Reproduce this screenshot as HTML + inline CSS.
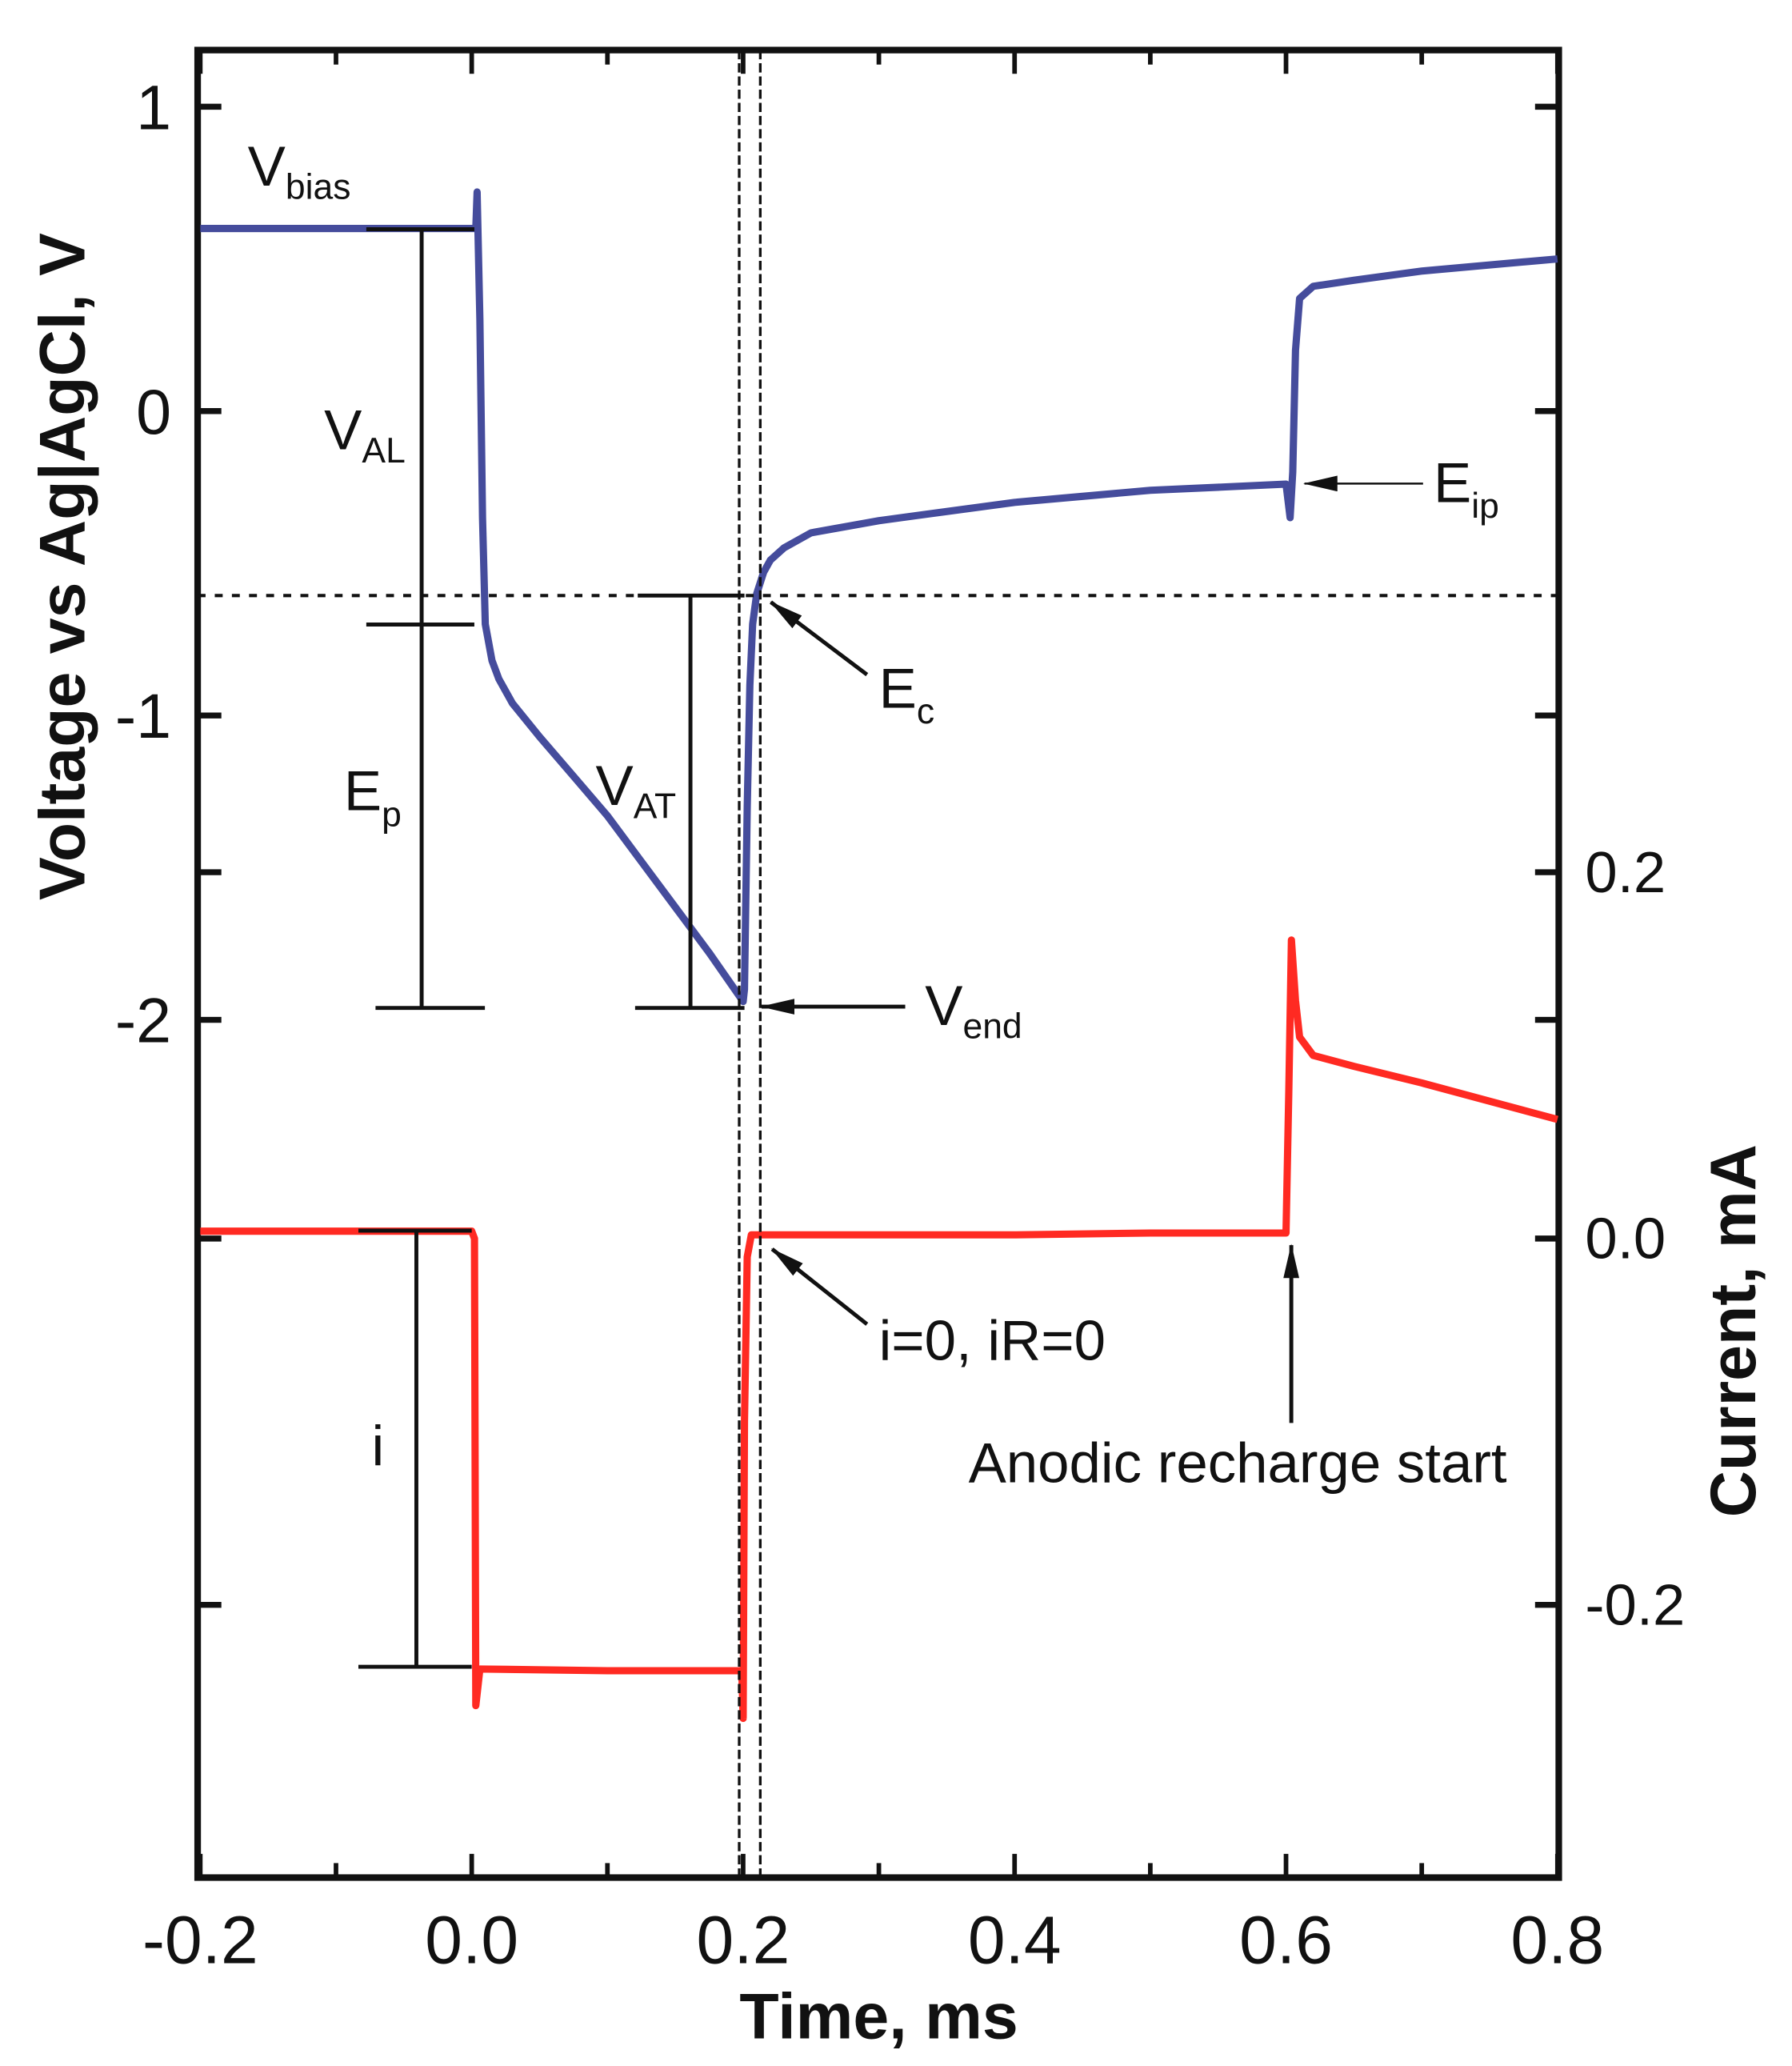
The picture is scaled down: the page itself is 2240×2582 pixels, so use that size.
<!DOCTYPE html>
<html><head><meta charset="utf-8"><style>
html,body{margin:0;padding:0;background:#fff;}
svg{display:block;}
text{font-family:"Liberation Sans",Arial,sans-serif;fill:#111;}
</style></head><body>
<svg id="chart" width="2240" height="2582" viewBox="0 0 1360 1568" preserveAspectRatio="none" xmlns="http://www.w3.org/2000/svg">
<g id="axes"></g>
<g id="series"></g>
<g id="annot">
  <defs>
  <marker id="ahb" markerWidth="26" markerHeight="12" refX="25" refY="6" orient="auto" markerUnits="userSpaceOnUse"><path d="M0,0 L26,6 L0,12 z" fill="#111"/></marker></defs>
  <line x1="150" y1="452" x2="1183" y2="452" stroke="#111" stroke-width="2.5" stroke-dasharray="6,7"/>
  <line x1="561" y1="38" x2="561" y2="1425" stroke="#111" stroke-width="2" stroke-dasharray="7,3"/>
  <line x1="577" y1="38" x2="577" y2="1425" stroke="#111" stroke-width="2" stroke-dasharray="7,3"/>
  <g stroke="#111" stroke-width="3">
    <line x1="320" y1="174" x2="320" y2="765"/><line x1="278" y1="174" x2="360" y2="174"/>
    <line x1="278" y1="474" x2="360" y2="474"/><line x1="285" y1="765" x2="368" y2="765"/>
  </g>
  <g stroke="#111" stroke-width="3">
    <line x1="524" y1="452" x2="524" y2="765"/><line x1="484" y1="452" x2="565" y2="452"/>
    <line x1="482" y1="765" x2="565" y2="765"/>
  </g>
  <g stroke="#111" stroke-width="3">
    <line x1="316" y1="934" x2="316" y2="1265"/><line x1="272" y1="934" x2="358" y2="934"/>
    <line x1="272" y1="1265" x2="358" y2="1265"/>
  </g>
  <line x1="658" y1="512" x2="585" y2="457" stroke="#111" stroke-width="3" marker-end="url(#ahb)"/>
  <line x1="687" y1="764" x2="578" y2="764" stroke="#111" stroke-width="3" marker-end="url(#ahb)"/>
  <line x1="1080" y1="367" x2="990" y2="367" stroke="#111" stroke-width="1.5" marker-end="url(#ahb)"/>
  <line x1="658" y1="1005" x2="586" y2="948" stroke="#111" stroke-width="3" marker-end="url(#ahb)"/>
  <line x1="980" y1="1080" x2="980" y2="945" stroke="#111" stroke-width="3" marker-end="url(#ahb)"/>
  <text x="188" y="141" font-size="43">V<tspan font-size="27" dy="10">bias</tspan></text>
  <text x="246" y="341" font-size="43">V<tspan font-size="27" dy="10">AL</tspan></text>
  <text x="261" y="615" font-size="43">E<tspan font-size="27" dy="12">p</tspan></text>
  <text x="452" y="611" font-size="43">V<tspan font-size="27" dy="10">AT</tspan></text>
  <text x="667" y="537" font-size="43">E<tspan font-size="27" dy="12">c</tspan></text>
  <text x="702" y="778" font-size="43">V<tspan font-size="27" dy="10">end</tspan></text>
  <text x="1088" y="381" font-size="43">E<tspan font-size="27" dy="12">ip</tspan></text>
  <text x="282" y="1112" font-size="43">i</text>
  <text x="667" y="1032" font-size="43">i=0, iR=0</text>
  <text x="735" y="1125" font-size="43">Anodic recharge start</text>
</g>
</svg>
<script>
const vTime=[-0.2,-0.1,0.0,0.003,0.004,0.006,0.008,0.01,0.015,0.02,0.03,0.05,0.075,0.1,0.125,0.15,0.175,0.2,0.201,0.203,0.205,0.207,0.21,0.215,0.22,0.23,0.25,0.3,0.35,0.4,0.45,0.5,0.55,0.6,0.603,0.605,0.607,0.61,0.62,0.65,0.7,0.75,0.8];
const vValue=[0.6,0.6,0.6,0.6,0.72,0.3,-0.35,-0.7,-0.82,-0.88,-0.96,-1.07,-1.2,-1.33,-1.48,-1.63,-1.78,-1.94,-1.9,-1.3,-0.9,-0.7,-0.6,-0.53,-0.49,-0.45,-0.4,-0.36,-0.33,-0.3,-0.28,-0.26,-0.25,-0.24,-0.35,-0.2,0.2,0.37,0.41,0.43,0.46,0.48,0.5];
const iTime=[-0.2,0.0,0.002,0.003,0.006,0.1,0.199,0.2,0.201,0.203,0.206,0.3,0.4,0.5,0.6,0.602,0.604,0.607,0.61,0.62,0.65,0.7,0.75,0.8];
const iValue=[0.004,0.004,0.0,-0.255,-0.235,-0.236,-0.236,-0.262,-0.1,-0.01,0.002,0.002,0.002,0.003,0.003,0.08,0.163,0.13,0.11,0.1,0.094,0.085,0.075,0.065];
const xTicks=[-0.2,0.0,0.2,0.4,0.6,0.8];
const xTickLabels=["-0.2","0.0","0.2","0.4","0.6","0.8"];
const vTicks=[1,0,-1,-2];
const vTickLabels=["1","0","-1","-2"];
const iTicks=[0.2,0.0,-0.2];
const iTickLabels=["0.2","0.0","-0.2"];

const L=150,R=1183,T=38,B=1425;
function sx(t){return 358+(t-0)*(1182-358)/0.8;}
function sv(v){return 312-v*231;}
function si(i){return 940-i*1390;}
const NS="http://www.w3.org/2000/svg";
function mk(tag,attrs,parent){const e=document.createElementNS(NS,tag);for(const k in attrs)e.setAttribute(k,attrs[k]);parent.appendChild(e);return e;}
const ax=document.getElementById('axes');
let frame=mk('rect',{x:L,y:T,width:R-L,height:B-T,fill:'none',stroke:'#111','stroke-width':5},ax);


for(let k=-2;k<=8;k++){
  const t=k/10,x=sx(t),len=(k%2===0)?18:11;
  let a=mk('line',{x1:x,y1:B,x2:x,y2:B-len,stroke:'#111','stroke-width':3.5},ax);
  
  
  let b=mk('line',{x1:x,y1:T,x2:x,y2:T+len,stroke:'#111','stroke-width':3.5},ax);
  
  
}
xTicks.forEach((t,j)=>{
  let tx=mk('text',{x:sx(t),y:1490,'font-size':51,'text-anchor':'middle'},ax);
  tx.textContent=xTickLabels[j];
  
  
});
const yTickPos=vTicks.map(sv).concat(iTicks.map(si));
yTickPos.forEach(y=>{
  let a=mk('line',{x1:L,y1:y,x2:L+18,y2:y,stroke:'#111','stroke-width':4.5},ax);
  
  
  let b=mk('line',{x1:R,y1:y,x2:R-18,y2:y,stroke:'#111','stroke-width':4.5},ax);
  
  
});
vTicks.forEach((v,j)=>{
  let tx=mk('text',{x:130,y:sv(v)+17,'font-size':48,'text-anchor':'end'},ax);
  tx.textContent=vTickLabels[j];
  
  
});
iTicks.forEach((v,j)=>{
  let tx=mk('text',{x:1203,y:si(v)+15,'font-size':44},ax);
  tx.textContent=iTickLabels[j];
  
  
});
let xt=mk('text',{x:667,y:1547,'font-size':49,'font-weight':'bold','text-anchor':'middle'},ax);
xt.textContent='Time, ms';


let yt=mk('text',{x:0,y:0,'font-size':49,'font-weight':'bold','text-anchor':'middle',transform:'translate(64,430) rotate(-90)'},ax);
yt.textContent='Voltage vs Ag|AgCl, V';


let yr=mk('text',{x:0,y:0,'font-size':49,'font-weight':'bold','text-anchor':'middle',transform:'translate(1332,1010) rotate(-90)'},ax);
yr.textContent='Current, mA';



const se=document.getElementById('series');
let vp=mk('path',{d:vTime.map((t,j)=>(j?'L':'M')+sx(t).toFixed(1)+','+sv(vValue[j]).toFixed(1)).join(''),fill:'none',stroke:'#454c9c','stroke-width':5.5,'stroke-linejoin':'round'},se);


let ip=mk('path',{d:iTime.map((t,j)=>(j?'L':'M')+sx(t).toFixed(1)+','+si(iValue[j]).toFixed(1)).join(''),fill:'none',stroke:'#ff2a22','stroke-width':5.5,'stroke-linejoin':'round'},se);


</script>
</body></html>
